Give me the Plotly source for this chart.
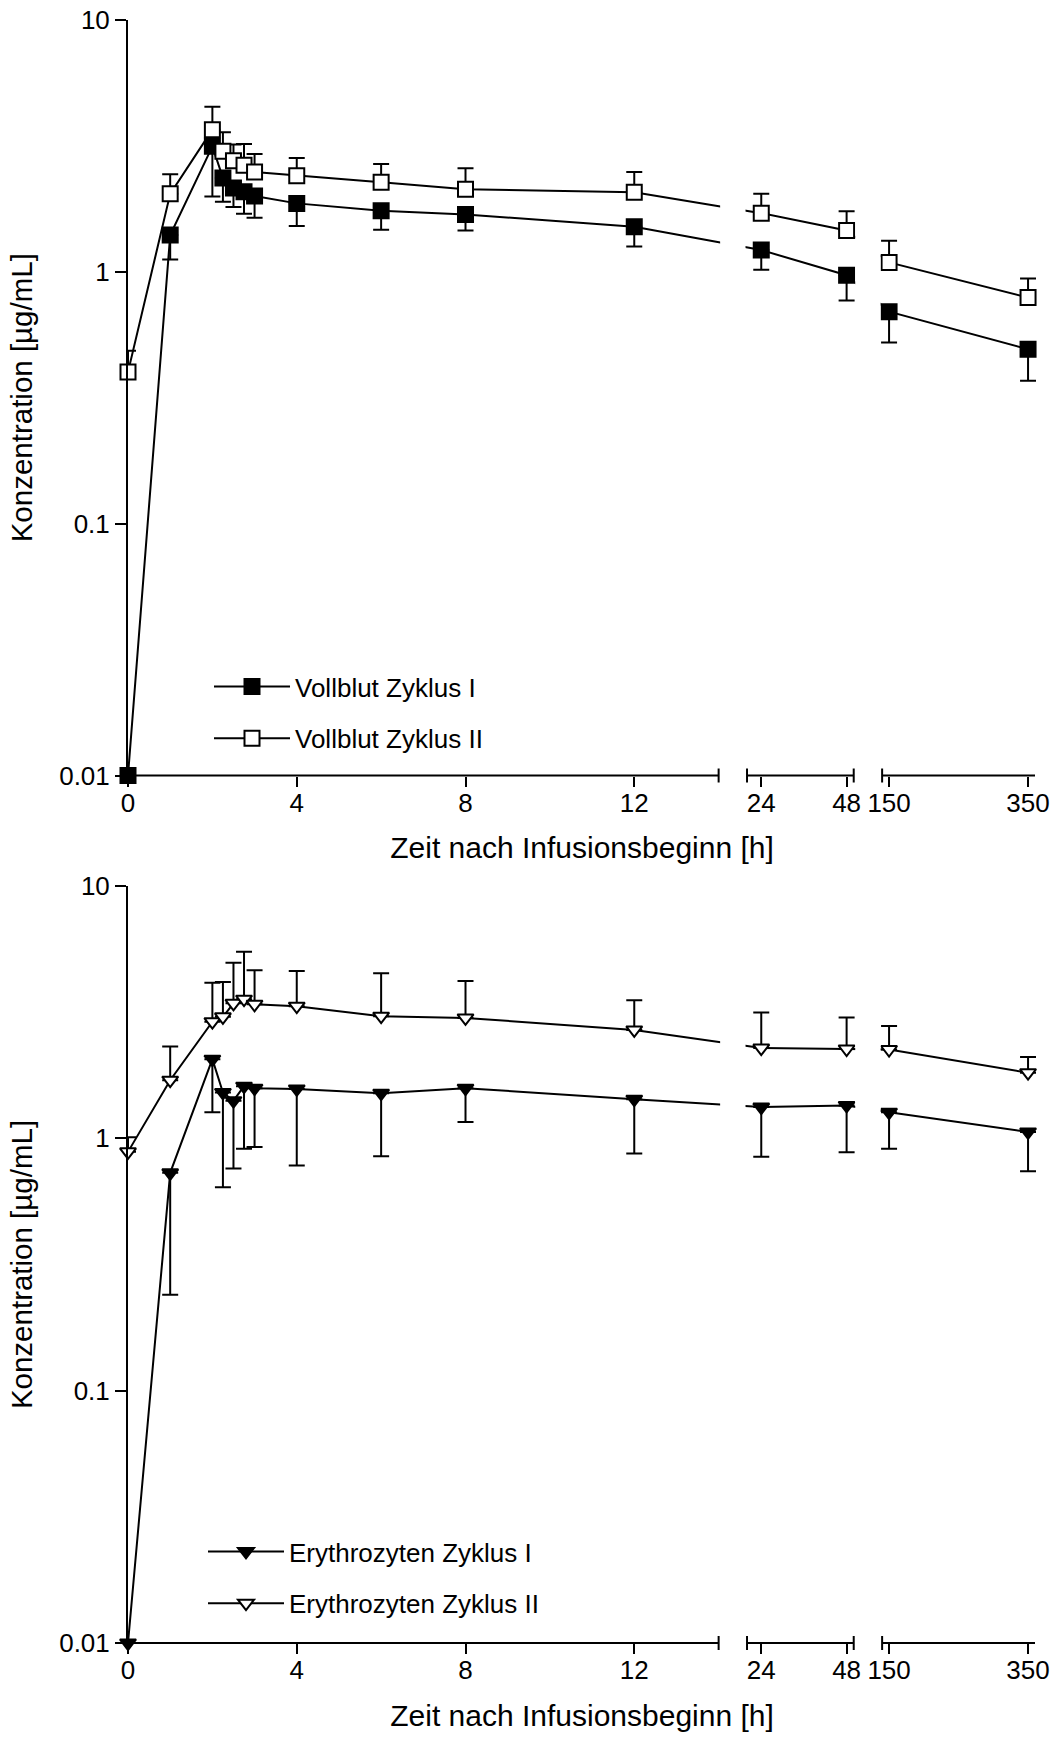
import plotly.graph_objects as go

# ---------------- data ----------------
times = [0, 1, 2, 2.25, 2.5, 2.75, 3, 4, 6, 8, 12, 24, 48, 150, 350]

vollblut_1 = [0.01, 1.40, 3.15, 2.36, 2.15, 2.08, 2.00, 1.87, 1.75, 1.69, 1.51, 1.22, 0.97, 0.695, 0.493]
vollblut_1_lower = [0.01, 1.12, 1.99, 1.90, 1.81, 1.70, 1.64, 1.52, 1.47, 1.46, 1.26, 1.02, 0.77, 0.524, 0.369]
vollblut_2 = [0.40, 2.04, 3.67, 3.01, 2.76, 2.65, 2.49, 2.41, 2.27, 2.13, 2.07, 1.71, 1.46, 1.09, 0.79]
vollblut_2_upper = [0.486, 2.44, 4.52, 3.58, 3.20, 3.22, 2.94, 2.83, 2.68, 2.58, 2.49, 2.04, 1.74, 1.33, 0.94]

ery_1 = [0.01, 0.73, 2.06, 1.52, 1.41, 1.61, 1.58, 1.57, 1.51, 1.58, 1.43, 1.33, 1.35, 1.27, 1.06]
ery_1_lower = [0.01, 0.24, 1.27, 0.64, 0.76, 0.91, 0.925, 0.78, 0.85, 1.16, 0.87, 0.845, 0.88, 0.91, 0.74]
ery_2 = [0.884, 1.70, 2.90, 3.03, 3.43, 3.56, 3.40, 3.34, 3.05, 3.00, 2.69, 2.28, 2.26, 2.25, 1.82]
ery_2_upper = [1.01, 2.31, 4.14, 4.17, 4.96, 5.49, 4.64, 4.61, 4.51, 4.20, 3.53, 3.15, 3.01, 2.79, 2.10]

x_tick_hours = [0, 4, 8, 12, 24, 48, 150, 350]
x_tick_labels = ["0", "4", "8", "12", "24", "48", "150", "350"]
y_tick_vals = [0.01, 0.1, 1, 10]
y_tick_labels = ["0.01", "0.1", "1", "10"]

# broken x axis: hour ranges of the three segments
segment_hours = [(0, 14), (20, 50), (140, 360)]

# ---------------- styling ----------------
segment_px = [590.7, 106.7, 152.9]
gap_px = 28.4
FONT = "Liberation Sans, Arial, sans-serif"
BLACK = "black"


def axis_pos(t):
    """Broken-axis scale: hours -> position along the x axis."""
    start = 0.0
    for (a, b), length in zip(segment_hours, segment_px):
        if t <= b:
            return start + (t - a) / (b - a) * length
        start += length + gap_px
    return start


x_pos = [axis_pos(t) for t in times]
x_tick_pos = [axis_pos(t) for t in x_tick_hours]
seg_bounds = [(axis_pos(a), axis_pos(b)) for a, b in segment_hours]
x_max = seg_bounds[-1][1] + 1


def diff(a, b):
    return [max(x - y, 0) for x, y in zip(a, b)]


fig = go.Figure()


def add_series(name, y, err_up, err_down, symbol, fill, xa, ya, legend, size):
    fig.add_trace(go.Scatter(
        x=x_pos, y=y, name=name, mode="lines+markers",
        xaxis=xa, yaxis=ya, legend=legend,
        legendgroup=name,
        line=dict(color=BLACK, width=2),
        marker=dict(symbol=symbol, size=size, color=fill, line=dict(color=BLACK, width=2)),
        error_y=dict(type="data", symmetric=False, array=err_up, arrayminus=err_down,
                     color=BLACK, thickness=2, width=8),
        cliponaxis=False,
    ))


zeros = [0] * len(times)
add_series("Vollblut Zyklus I", vollblut_1, zeros, diff(vollblut_1, vollblut_1_lower),
           "square", BLACK, "x", "y", "legend", 15)
add_series("Vollblut Zyklus II", vollblut_2, diff(vollblut_2_upper, vollblut_2), zeros,
           "square", "white", "x", "y", "legend", 15)
add_series("Erythrozyten Zyklus I", ery_1, zeros, diff(ery_1, ery_1_lower),
           "triangle-down", BLACK, "x2", "y2", "legend2", 14)
add_series("Erythrozyten Zyklus II", ery_2, diff(ery_2_upper, ery_2), zeros,
           "triangle-down", "white", "x2", "y2", "legend2", 14)

# ---------------- axes ----------------
xaxis_common = dict(
    range=[0, x_max], showline=False, showgrid=False, zeroline=False,
    ticks="outside", ticklen=10, tickwidth=2, tickcolor=BLACK,
    tickvals=x_tick_pos, ticktext=x_tick_labels, tickangle=0,
    ticklabelstandoff=-6, ticklabeloverflow="allow",
    tickfont=dict(family=FONT, size=26, color=BLACK),
    title=dict(text="Zeit nach Infusionsbeginn [h]", font=dict(family=FONT, size=30, color=BLACK),
               standoff=20),
)
yaxis_common = dict(
    type="log", range=[-2, 1], showline=True, linewidth=2, linecolor=BLACK,
    showgrid=False, zeroline=False, ticks="outside", ticklen=11, tickwidth=2, tickcolor=BLACK,
    tickvals=y_tick_vals, ticktext=y_tick_labels, ticklabeloverflow="allow",
    tickfont=dict(family=FONT, size=26, color=BLACK),
    title=dict(text="Konzentration [µg/mL]", font=dict(family=FONT, size=29.5, color=BLACK),
               standoff=18),
)

top_dom = [0.5345, 1.0]
bot_dom = [0.0, 0.4664]

shapes = []
for xref, yref in (("x", "y domain"), ("x2", "y2 domain")):
    # mask the connecting lines inside the axis breaks
    for (s0, e0), (s1, e1) in zip(seg_bounds[:-1], seg_bounds[1:]):
        shapes.append(dict(type="rect", xref=xref, yref=yref, x0=e0 + 1.5, x1=s1 - 1.5,
                           y0=0, y1=1, fillcolor="white", line=dict(width=0), layer="above"))
    # axis line segments
    for s, e in seg_bounds:
        shapes.append(dict(type="line", xref=xref, yref=yref, x0=s, x1=e, y0=0, y1=0,
                           line=dict(color=BLACK, width=2), layer="above"))
    # break caps
    caps = [seg_bounds[0][1], seg_bounds[1][0], seg_bounds[1][1], seg_bounds[2][0]]
    for c in caps:
        shapes.append(dict(type="line", xref=xref, yref=yref, x0=c, x1=c,
                           ysizemode="pixel", yanchor=0, y0=-7, y1=7,
                           line=dict(color=BLACK, width=2), layer="above"))

legend_common = dict(
    xref="paper", yref="paper", xanchor="left", yanchor="top",
    font=dict(family=FONT, size=26, color=BLACK), bgcolor="rgba(0,0,0,0)",
    tracegroupgap=15, itemwidth=76,
)

fig.update_layout(
    width=1055, height=1737,
    margin=dict(l=128, r=19, t=20, b=94, autoexpand=False),
    paper_bgcolor="white", plot_bgcolor="white",
    font=dict(family=FONT, color=BLACK),
    xaxis=dict(**xaxis_common, domain=[0, 1], anchor="y"),
    yaxis=dict(**yaxis_common, domain=top_dom, anchor="x"),
    xaxis2=dict(**xaxis_common, domain=[0, 1], anchor="y2"),
    yaxis2=dict(**yaxis_common, domain=bot_dom, anchor="x2"),
    shapes=shapes,
    legend=dict(**legend_common, x=(209 - 128) / 908, y=(1643 - 663) / 1623),
    legend2=dict(**legend_common, x=(203 - 128) / 908, y=(1643 - 1528) / 1623),
    showlegend=True,
)

fig.write_html("out.html", config={"displayModeBar": False},
               post_script="document.body.style.margin='0';")
